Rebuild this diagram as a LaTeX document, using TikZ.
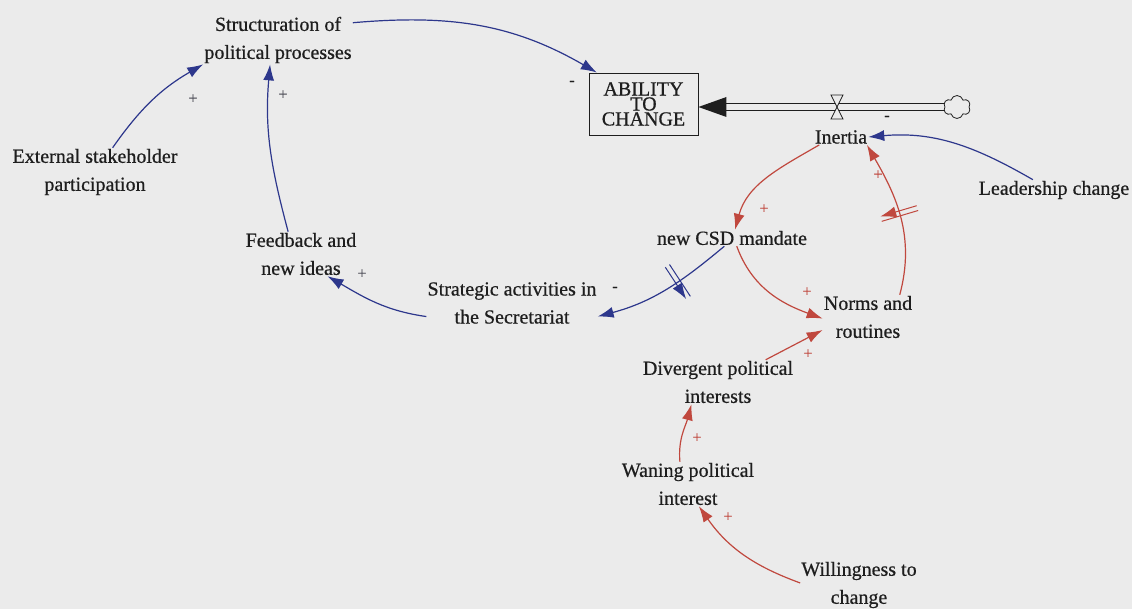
\documentclass[tikz,border=0pt]{standalone}
\usepackage{fontspec}
\setmainfont{Liberation Serif}[FakeBold=0.6]
\usetikzlibrary{arrows.meta,decorations.markings,shapes.symbols}
\definecolor{bg}{RGB}{235,235,235}
\definecolor{linkblue}{RGB}{45,55,140}
\definecolor{linkred}{RGB}{192,72,62}
\definecolor{ink}{RGB}{30,30,30}
\definecolor{signgray}{RGB}{80,80,90}

\begin{document}
\begin{tikzpicture}[x=1pt,y=1pt,
  var/.style={text=ink, font=\fontsize{20}{28}\selectfont, align=center, inner sep=1pt},
  pol/.style={font=\fontsize{16}{16}\selectfont, inner sep=0pt},
  link/.style={line width=1.2pt, -{Latex[length=16pt,width=11pt]}},
  bluelink/.style={link, draw=linkblue},
  redlink/.style={link, draw=linkred},
  delaymark/.style 2 args={postaction={decorate, decoration={markings,
      mark=at position #1 with {\draw[line width=1pt, #2] (-2.5,-19)--(-2.5,19) (2.5,-19)--(2.5,19);}}}},
]
% canvas and frame
\fill[bg] (0,0) rectangle (1132,-609);
\useasboundingbox (0,0) rectangle (1132,-609);

% variables
\node[var] (struct) at (278,-40) {Structuration of\\political processes};
\node[var] (ext) at (95,-172) {External stakeholder\\participation};
\node[var] (feed) at (301,-254) {Feedback and\\new ideas};
\node[var] (strat) at (512,-303) {Strategic activities in\\the Secretariat};
\node[var] (csd) at (732,-238) {new CSD mandate};
\node[var] (norms) at (868,-317) {Norms and\\routines};
\node[var] (div) at (718,-382) {Divergent political\\interests};
\node[var] (wan) at (688,-484) {Waning political\\interest};
\node[var] (will) at (859,-585) {Willingness to\\change};
\node[var] (inertia) at (841,-137) {Inertia};
\node[var] (lead) at (1054,-190) {Leadership change};

% stock
\node[draw=ink, line width=0.9pt, minimum width=109pt, minimum height=62pt,
      text=ink, font=\fontsize{20}{15}\selectfont, align=center, inner sep=0pt]
      (ability) at (643.5,-104) {ABILITY\\TO\\CHANGE};

% inflow: cloud source, pipe, valve
\node[cloud, cloud puffs=6, draw=ink, fill=bg, line width=0.8pt,
      minimum width=27pt, minimum height=23pt, inner sep=0pt] (cloud) at (957,-107) {};
\draw[ink, line width=0.9pt]
  ([yshift=3.5pt]cloud.west) -- ([xshift=26pt,yshift=0.5pt]ability.east)
  ([yshift=-3.5pt]cloud.west) -- ([xshift=26pt,yshift=-6.5pt]ability.east);
\fill[ink] ([yshift=-3pt]ability.east) -- ++(28,10) -- ++(0,-20) -- cycle;
\draw[ink, fill=bg, line width=0.8pt] (831,-95) -- (843,-95) -- (837,-107) -- cycle;
\draw[ink, fill=bg, line width=0.8pt] (837,-107) -- (843,-119) -- (831,-119) -- cycle;

% causal links
\draw[bluelink] (ext.54) to[out=55,in=210] (struct.south west);
\draw[bluelink] (feed.120) to[out=105,in=265] (struct.252);
\draw[bluelink] (struct.13) to[out=5,in=150] (ability.146);
\draw[bluelink, delaymark={0.4}{linkblue}] (csd.227) to[out=220,in=15] (strat.-9);
\draw[bluelink] (strat.189) to[out=172,in=-30] (feed.-40);
\draw[bluelink] (lead.154) to[out=150,in=5] (inertia.0);
\draw[redlink] (inertia.200) to[out=210,in=75] (csd.70);
\draw[redlink] (csd.-60) to[out=-70,in=160] (norms.182);
\draw[redlink, delaymark={0.52}{linkred}] (norms.35) to[out=75,in=-60] (inertia.-17);
\draw[redlink] (div.25) -- (norms.196);
\draw[redlink] (wan.110) to[out=95,in=255] (div.220);
\draw[redlink] (will.178) to[out=160,in=-55] (wan.-64);

% polarities
\node[pol, text=signgray] (s1) at (193,-99) {+};
\node[pol, text=signgray] (s2) at (283,-95) {+};
\node[pol, text=ink] (s3) at (572,-83) {-};
\node[pol, text=signgray] (s4) at (362,-274) {+};
\node[pol, text=ink] (s5) at (615,-289) {-};
\node[pol, text=ink] (s6) at (887,-118) {-};
\node[pol, text=linkred] (s7) at (764,-209) {+};
\node[pol, text=linkred] (s8) at (878,-175) {+};
\node[pol, text=linkred] (s9) at (807,-292) {+};
\node[pol, text=linkred] (s10) at (808,-354) {+};
\node[pol, text=linkred] (s11) at (697,-438) {+};
\node[pol, text=linkred] (s12) at (728,-517) {+};
\end{tikzpicture}
\end{document}
